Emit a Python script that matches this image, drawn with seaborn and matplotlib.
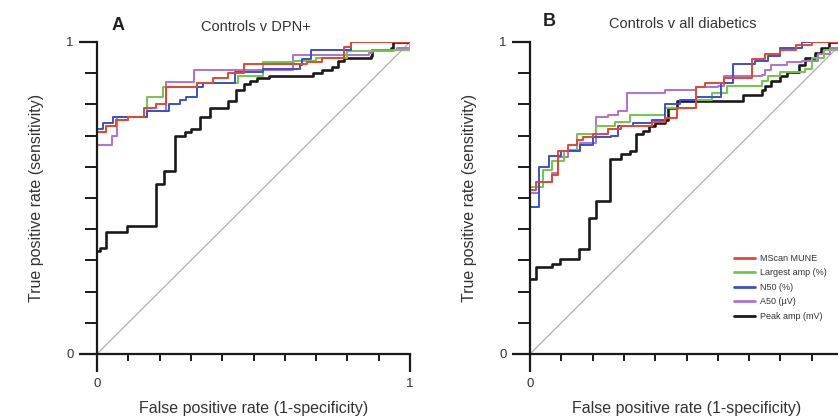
import numpy as np
import pandas as pd
import matplotlib
matplotlib.use("Agg")
import matplotlib.pyplot as plt
from matplotlib.lines import Line2D
import seaborn as sns

sns.set_theme(style="ticks")
plt.rcParams['font.family'] = ['Liberation Sans', 'DejaVu Sans']

# ---------------- data ----------------
series_names = ["MScan MUNE", "Largest amp (%)", "N50 (%)", "A50 (µV)", "Peak amp (mV)"]
colors = {"MScan MUNE": "#e8452c", "Largest amp (%)": "#72c74a", "N50 (%)": "#3a4fd8",
          "A50 (µV)": "#b070d6", "Peak amp (mV)": "#1a1a1a"}

# Panel A: Controls v DPN+
a_mune_fpr = [0, 0.03, 0.06, 0.10, 0.15, 0.19, 0.22, 0.32, 0.37, 0.42, 0.47, 0.67, 0.72, 0.79, 0.81, 1.0]
a_mune_tpr = [0.71, 0.73, 0.75, 0.76, 0.79, 0.80, 0.855, 0.87, 0.885, 0.90, 0.93, 0.935, 0.95, 0.985, 1.0, 1.0]
a_large_fpr = [0, 0.03, 0.06, 0.10, 0.16, 0.16, 0.21, 0.32, 0.45, 0.53, 0.63, 0.70, 0.80, 0.95, 1.0]
a_large_tpr = [0.71, 0.73, 0.75, 0.76, 0.78, 0.825, 0.855, 0.87, 0.89, 0.935, 0.94, 0.95, 0.97, 0.975, 1.0]
a_n50_fpr = [0, 0.02, 0.05, 0.16, 0.23, 0.265, 0.285, 0.32, 0.34, 0.44, 0.53, 0.65, 0.655, 0.685, 0.81, 1.0]
a_n50_tpr = [0.72, 0.74, 0.76, 0.78, 0.80, 0.815, 0.825, 0.855, 0.87, 0.905, 0.915, 0.925, 0.945, 0.975, 1.0, 1.0]
a_a50_fpr = [0, 0.047, 0.063, 0.16, 0.22, 0.31, 0.625, 0.87, 0.88, 0.96, 1.0]
a_a50_tpr = [0.67, 0.70, 0.76, 0.78, 0.872, 0.91, 0.957, 0.965, 0.975, 0.98, 1.0]
a_peak_fpr = [0, 0.01, 0.03, 0.095, 0.19, 0.215, 0.25, 0.28, 0.30, 0.33, 0.36, 0.42, 0.445, 0.47,
              0.49, 0.51, 0.55, 0.69, 0.72, 0.75, 0.77, 0.79, 0.875, 0.88, 0.94, 0.945, 1.0]
a_peak_tpr = [0.33, 0.34, 0.39, 0.41, 0.545, 0.585, 0.70, 0.71, 0.72, 0.76, 0.79, 0.81, 0.845, 0.865,
              0.875, 0.885, 0.89, 0.90, 0.91, 0.92, 0.94, 0.95, 0.955, 0.975, 0.98, 1.0, 1.0]

# Panel B: Controls v all diabetics
b_mune_fpr = [0, 0.02, 0.07, 0.09, 0.12, 0.15, 0.17, 0.20, 0.25, 0.29, 0.39, 0.43, 0.47, 0.53, 0.56,
              0.62, 0.71, 0.71, 0.75, 0.80, 0.85, 0.90, 1.0]
b_mune_tpr = [0.525, 0.55, 0.575, 0.65, 0.67, 0.685, 0.695, 0.705, 0.72, 0.73, 0.745, 0.755, 0.79, 0.855,
              0.87, 0.885, 0.895, 0.945, 0.96, 0.975, 0.99, 1.0, 1.0]
b_large_fpr = [0, 0.04, 0.07, 0.11, 0.15, 0.21, 0.27, 0.32, 0.43, 0.53, 0.58, 0.63, 0.74, 0.76, 0.80,
               0.88, 0.90, 0.94, 1.0]
b_large_tpr = [0.535, 0.59, 0.62, 0.65, 0.705, 0.73, 0.745, 0.765, 0.79, 0.815, 0.835, 0.86, 0.875, 0.89,
               0.905, 0.915, 0.95, 0.975, 1.0]
b_n50_fpr = [0, 0.03, 0.06, 0.10, 0.16, 0.20, 0.26, 0.28, 0.33, 0.39, 0.43, 0.48, 0.53, 0.61, 0.65,
             0.72, 0.76, 0.80, 0.87, 1.0]
b_n50_tpr = [0.47, 0.60, 0.635, 0.65, 0.67, 0.695, 0.70, 0.73, 0.74, 0.75, 0.80, 0.815, 0.825, 0.87, 0.93,
             0.94, 0.955, 0.98, 1.0, 1.0]
b_a50_fpr = [0, 0.03, 0.07, 0.09, 0.12, 0.16, 0.21, 0.25, 0.28, 0.31, 0.43, 0.53, 0.60, 0.62, 0.74,
             0.75, 0.77, 0.82, 0.87, 0.92, 0.96, 1.0]
b_a50_tpr = [0.515, 0.55, 0.58, 0.63, 0.655, 0.675, 0.76, 0.765, 0.78, 0.835, 0.845, 0.855, 0.86, 0.89,
             0.895, 0.91, 0.925, 0.935, 0.94, 0.96, 0.98, 1.0]
b_peak_fpr = [0, 0.02, 0.07, 0.095, 0.155, 0.19, 0.21, 0.255, 0.29, 0.32, 0.34, 0.36, 0.38, 0.40, 0.43,
              0.44, 0.47, 0.68, 0.74, 0.75, 0.77, 0.80, 0.82, 0.86, 0.88, 0.91, 0.93, 0.955, 1.0]
b_peak_tpr = [0.24, 0.28, 0.29, 0.305, 0.335, 0.435, 0.49, 0.625, 0.64, 0.65, 0.705, 0.715, 0.73, 0.74,
              0.75, 0.79, 0.812, 0.83, 0.845, 0.86, 0.875, 0.89, 0.905, 0.925, 0.95, 0.965, 0.98, 1.0, 1.0]

panels = [
    {"letter": "A", "title": "Controls v DPN+",
     "data": {"MScan MUNE": (a_mune_fpr, a_mune_tpr), "Largest amp (%)": (a_large_fpr, a_large_tpr),
              "N50 (%)": (a_n50_fpr, a_n50_tpr), "A50 (µV)": (a_a50_fpr, a_a50_tpr),
              "Peak amp (mV)": (a_peak_fpr, a_peak_tpr)},
     "xticklabels": ["0", "1"]},
    {"letter": "B", "title": "Controls v all diabetics",
     "data": {"MScan MUNE": (b_mune_fpr, b_mune_tpr), "Largest amp (%)": (b_large_fpr, b_large_tpr),
              "N50 (%)": (b_n50_fpr, b_n50_tpr), "A50 (µV)": (b_a50_fpr, b_a50_tpr),
              "Peak amp (mV)": (b_peak_fpr, b_peak_tpr)},
     "xticklabels": ["0", ""]},
]
diag = [0.0, 1.0]

# ---------------- figure ----------------
W, H = 838, 417
fig = plt.figure(figsize=(W / 100, H / 100), dpi=100)
axes_px = [(97, 42, 313, 312), (530, 42, 313, 312)]  # left, top, width, height in px
letter_pos = [(118, 25), (549, 22)]
title_pos = [(256, 27), (683, 24)]

draw_order = ["Peak amp (mV)", "A50 (µV)", "Largest amp (%)", "N50 (%)", "MScan MUNE"]

for i, (p, (l, t, w, h)) in enumerate(zip(panels, axes_px)):
    ax = fig.add_axes([l / W, 1 - (t + h) / H, w / W, h / H])
    ax.set_facecolor("white")
    sns.lineplot(x=diag, y=diag, ax=ax, color="#a8a8a8", linewidth=0.8)
    for name in draw_order:
        fpr, tpr = p["data"][name]
        df = pd.DataFrame({"fpr": fpr, "tpr": tpr})
        sns.lineplot(data=df, x="fpr", y="tpr", ax=ax, estimator=None, sort=False,
                     drawstyle="steps-post", color=colors[name],
                     linewidth=1.9 if name == "Peak amp (mV)" else 1.4)
    ax.set_xlim(0, 1)
    ax.set_ylim(0, 1)
    for s in ["top", "right"]:
        ax.spines[s].set_visible(False)
    for s in ["left", "bottom"]:
        ax.spines[s].set_linewidth(1.6)
        ax.spines[s].set_color("#1a1a1a")
    ax.set_xticks([0, 1])
    ax.set_xticklabels(p["xticklabels"])
    ax.set_yticks([0, 1])
    ax.set_yticklabels(["0", "1"])
    ax.set_xticks(np.arange(0.1, 1.0, 0.1), minor=True)
    ax.set_yticks(np.arange(0.1, 1.0, 0.1), minor=True)
    ax.tick_params(axis="both", which="major", length=13, width=1.6, color="#1a1a1a",
                   labelsize=9.5, pad=4, labelcolor="#333333")
    ax.tick_params(axis="x", which="minor", length=5, width=1.4, color="#1a1a1a")
    ax.tick_params(axis="y", which="minor", length=9, width=1.4, color="#1a1a1a")
    ax.set_xlabel("False positive rate (1-specificity)", fontsize=11.5, color="#333333", labelpad=8)
    ax.set_ylabel("True positive rate (sensitivity)", fontsize=11.5, color="#333333", labelpad=16)

    lx, ly = letter_pos[i]
    tx, ty = title_pos[i]
    fig.text(lx / W, 1 - ly / H, p["letter"], fontsize=13, fontweight="bold", ha="center", va="center",
             color="#222222")
    fig.text(tx / W, 1 - ty / H, p["title"], fontsize=10.5, ha="center", va="center", color="#333333")

    if p["letter"] == "B":
        hs = [Line2D([0], [0], color=colors[n], linewidth=2.0) for n in series_names]
        fig.legend(hs, series_names, loc="upper left", bbox_to_anchor=(734 / W, 1 - 254 / H),
                   frameon=False, fontsize=6.5, handlelength=2.3, handletextpad=0.6,
                   labelspacing=0.6, borderpad=0, borderaxespad=0, labelcolor="#333333")

fig.savefig("out.png", dpi=100)
